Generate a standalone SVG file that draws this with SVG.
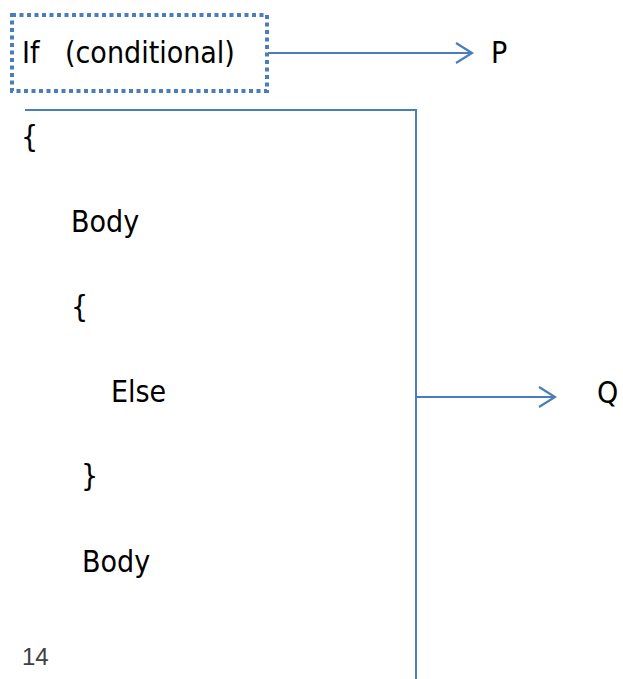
<svg xmlns="http://www.w3.org/2000/svg" width="623" height="679" viewBox="0 0 623 679">
<style>
.t{font-family:"DejaVu Sans Condensed","DejaVu Sans","Noto Sans",sans-serif;font-stretch:condensed;font-size:30px;fill:#000}
.ln{stroke:#4a7ebb;stroke-width:2;fill:none}
</style>
<defs>
<marker id="ah" markerWidth="20" markerHeight="24" refX="17" refY="11" orient="auto" markerUnits="userSpaceOnUse">
<path d="M1,1 L17,11 L1,21" fill="none" stroke="#4a7ebb" stroke-width="2.2"/>
</marker>
</defs>
<rect width="623" height="679" fill="#fff"/>
<g id="cond">
<rect x="12" y="15" width="255" height="76" fill="none" stroke="#4a7ebb" stroke-width="4" stroke-dasharray="4,3.5"/>
<text class="t" x="22" y="63" xml:space="preserve">If  <tspan x="65">(conditional)</tspan></text>
</g>
<g id="connectors">
<line class="ln" x1="268" y1="53" x2="472" y2="53" marker-end="url(#ah)"/>
<polyline class="ln" points="25,110 416,110 416,679"/>
<line class="ln" x1="416" y1="397" x2="555" y2="397" marker-end="url(#ah)"/>
</g>
<g id="P"><text class="t" x="491" y="63">P</text></g>
<g id="Q"><text class="t" x="597" y="403">Q</text></g>
<g id="code">
<text class="t" x="21" y="147">{</text>
<text class="t" x="71" y="232">Body</text>
<text class="t" x="71" y="317">{</text>
<text class="t" x="111" y="402">Else</text>
<text class="t" x="81" y="486">}</text>
<text class="t" x="82" y="572">Body</text>
</g>
<text x="22" y="665" font-family="Liberation Sans, sans-serif" font-size="24" fill="#404040">14</text>
</svg>
